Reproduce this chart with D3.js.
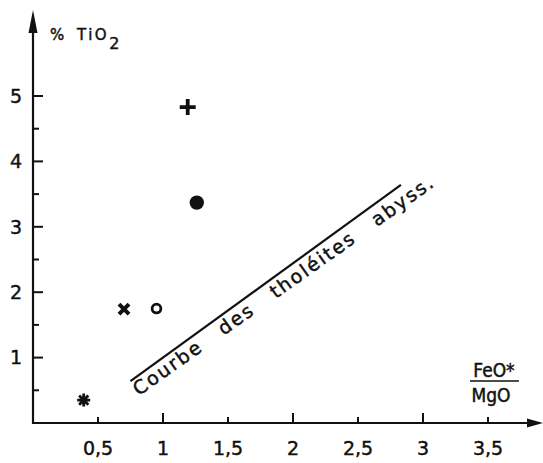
<!DOCTYPE html>
<html>
<head>
<meta charset="utf-8">
<script src="https://cdn.jsdelivr.net/npm/d3@7"></script>
<style>
  body { margin: 0; background: #fff; }
  svg { display: block; }
  text { stroke: #111; stroke-width: 0.45px; }
</style>
</head>
<body>
<div id="chart"></div>
<script>
// samples: FeO*/MgO against % TiO2
const symbols = ["asterisk", "cross", "ring", "plus", "dot"];
const feoMgo = [0.39, 0.70, 0.95, 1.19, 1.26];
const tio2 = [0.35, 1.74, 1.75, 4.83, 3.37];

// reference curve for abyssal tholeiites
const curveX = [0.75, 2.83];
const curveY = [0.64, 3.64];
const curveLabel = "Courbe des tholéites abyss.";

const xTicks = [0.5, 1, 1.5, 2, 2.5, 3, 3.5];
const xTickLabels = ["0,5", "1", "1,5", "2", "2,5", "3", "3,5"];
const yMajor = [1, 2, 3, 4, 5];
const yMinor = [0.5, 1.5, 2.5, 3.5, 4.5];

(function chart() {
  var width = 543, height = 463;
  var ink = "#111";

  const svg = d3.select("#chart")
    .append("svg")
    .attr("width", width)
    .attr("height", height);

  var x = d3.scaleLinear().domain([0, 4]).range([33, 553]);
  var y = d3.scaleLinear().domain([0, 5]).range([423, 96]);

  // axes
  svg.append("line")
    .attr("x1", x(0)).attr("y1", y(0))
    .attr("x2", 530).attr("y2", y(0))
    .attr("stroke", ink).attr("stroke-width", 2.2);
  svg.append("path")
    .attr("d", `M543,${y(0)} L527,${y(0) - 4.5} L527,${y(0) + 4.5} Z`)
    .attr("fill", ink);

  svg.append("line")
    .attr("x1", x(0)).attr("y1", y(0) + 1)
    .attr("x2", x(0)).attr("y2", 28)
    .attr("stroke", ink).attr("stroke-width", 2.2);
  svg.append("path")
    .attr("d", `M${x(0)},10 L${x(0) - 4.5},33 L${x(0) + 4.5},33 Z`)
    .attr("fill", ink);

  // x ticks: whole numbers long, halves short, both pointing up
  svg.selectAll(".xtick")
    .data(xTicks)
    .enter()
    .append("line")
      .attr("class", "xtick")
      .attr("x1", d => x(d)).attr("x2", d => x(d))
      .attr("y1", y(0))
      .attr("y2", d => y(0) - (d % 1 === 0 ? 10 : 6))
      .attr("stroke", ink).attr("stroke-width", 2);

  svg.selectAll(".xlabel")
    .data(xTicks)
    .enter()
    .append("text")
      .attr("class", "xlabel")
      .attr("x", d => x(d))
      .attr("y", 455)
      .attr("text-anchor", "middle")
      .style("font", "19px 'DejaVu Sans'")
      .style("fill", ink)
      .text((d, i) => xTickLabels[i]);

  // y ticks
  svg.selectAll(".ytick")
    .data(yMajor.concat(yMinor))
    .enter()
    .append("line")
      .attr("class", "ytick")
      .attr("x1", x(0))
      .attr("x2", d => x(0) + (d % 1 === 0 ? 10 : 6))
      .attr("y1", d => y(d)).attr("y2", d => y(d))
      .attr("stroke", ink).attr("stroke-width", 2);

  svg.selectAll(".ylabel")
    .data(yMajor)
    .enter()
    .append("text")
      .attr("class", "ylabel")
      .attr("x", 22)
      .attr("y", d => y(d))
      .attr("dy", "0.36em")
      .attr("text-anchor", "end")
      .style("font", "19px 'DejaVu Sans'")
      .style("fill", ink)
      .text(d => d);

  // axis titles
  var ytitle = svg.append("text")
    .attr("y", 40)
    .style("font", "15px 'DejaVu Sans'")
    .style("fill", ink);
  ytitle.append("tspan").attr("x", 50).text("%");
  ytitle.append("tspan").attr("x", 77).style("letter-spacing", "2.5px").text("TiO");
  ytitle.append("tspan").attr("dy", 9).style("font-size", "16px").text("2");

  svg.append("text")
    .attr("x", 494).attr("y", 377)
    .attr("text-anchor", "middle")
    .style("font", "19px 'DejaVu Sans Condensed', 'DejaVu Sans'")
    .style("font-stretch", "condensed")
    .style("fill", ink)
    .text("FeO*");
  svg.append("line")
    .attr("x1", 470).attr("x2", 519)
    .attr("y1", 381).attr("y2", 381)
    .attr("stroke", ink).attr("stroke-width", 1.6);
  svg.append("text")
    .attr("x", 491).attr("y", 402)
    .attr("text-anchor", "middle")
    .style("font", "19px 'DejaVu Sans Condensed', 'DejaVu Sans'")
    .style("font-stretch", "condensed")
    .style("fill", ink)
    .text("MgO");

  // reference curve and its label
  var curve = curveX.map((d, i) => [x(d), y(curveY[i])]);
  svg.append("path")
    .attr("d", d3.line()(curve))
    .attr("stroke", ink).attr("stroke-width", 2.2)
    .attr("fill", "none");

  var angle = Math.atan2(curve[1][1] - curve[0][1], curve[1][0] - curve[0][0]) * 180 / Math.PI;
  var label = svg.append("text")
    .attr("transform", `translate(${curve[0][0]},${curve[0][1]}) rotate(${angle + 0.6})`)
    .attr("x", -2).attr("y", 17)
    .style("font", "19px 'DejaVu Sans'")
    .style("letter-spacing", "2px")
    .style("fill", ink)
    .text(curveLabel);
  // spread the words so the label runs as far as in the figure
  var natural = label.node().getComputedTextLength();
  label.style("word-spacing", Math.max(0, (365 - natural) / 3) + "px");

  // markers
  var markTypes = {
    asterisk: { draw(ctx, r) {
      for (var k = 0; k < 4; k++) {
        var a = k * Math.PI / 4;
        ctx.moveTo(-r * Math.cos(a), -r * Math.sin(a));
        ctx.lineTo(r * Math.cos(a), r * Math.sin(a));
      }
    }},
    cross: { draw(ctx, r) {
      ctx.moveTo(-r, -r); ctx.lineTo(r, r);
      ctx.moveTo(-r, r); ctx.lineTo(r, -r);
    }},
    plus: { draw(ctx, r) {
      ctx.moveTo(-r, 0); ctx.lineTo(r, 0);
      ctx.moveTo(0, -r); ctx.lineTo(0, r);
    }},
    ring: { draw(ctx, r) { ctx.moveTo(r, 0); ctx.arc(0, 0, r, 0, 2 * Math.PI); }},
    dot: { draw(ctx, r) { ctx.moveTo(r, 0); ctx.arc(0, 0, r, 0, 2 * Math.PI); }}
  };
  var markStyle = {
    asterisk: { r: 6.5, sw: 2.8, fill: "none" },
    cross: { r: 5, sw: 4, fill: "none" },
    plus: { r: 8, sw: 3.8, fill: "none" },
    ring: { r: 4.4, sw: 2.8, fill: "none" },
    dot: { r: 7.2, sw: 0, fill: ink }
  };

  svg.selectAll(".mark")
    .data(symbols)
    .enter()
    .append("path")
      .attr("class", "mark")
      .attr("transform", (d, i) => `translate(${x(feoMgo[i])},${y(tio2[i])})`)
      .attr("d", d => d3.symbol().type(markTypes[d]).size(markStyle[d].r)())
      .attr("fill", d => markStyle[d].fill)
      .attr("stroke", ink)
      .attr("stroke-width", d => markStyle[d].sw);
})();
</script>
</body>
</html>
